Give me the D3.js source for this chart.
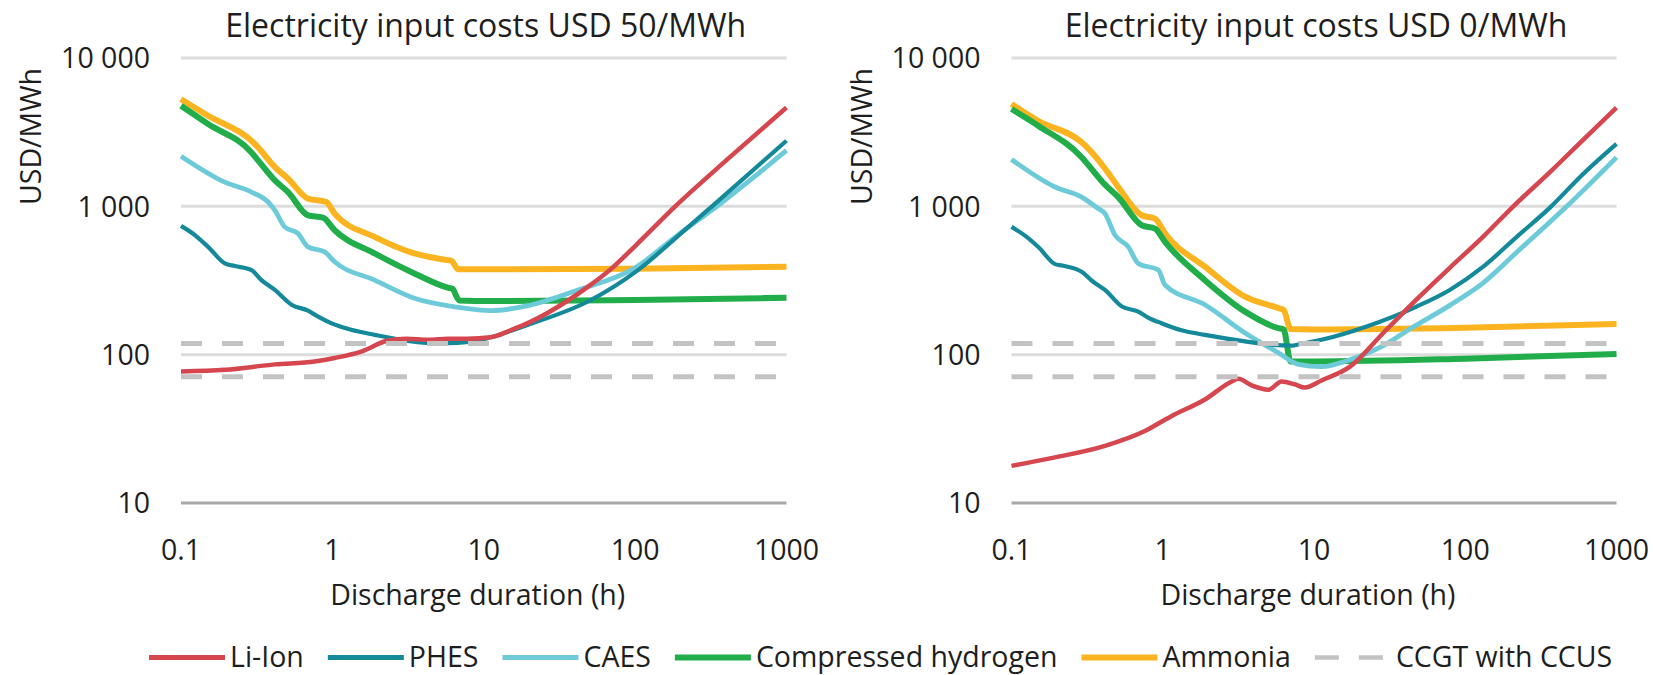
<!DOCTYPE html>
<html>
<head>
<meta charset="utf-8">
<script src="https://cdn.jsdelivr.net/npm/d3@7"></script>
<style>
  html, body { margin: 0; padding: 0; background: #fff; }
  svg { display: block; font-family: "Open Sans", "Noto Sans", sans-serif; }
</style>
</head>
<body>
<script>
// axis ticks
var durationTicks = [0.1, 1, 10, 100, 1000];
var costTicks = [10, 100, 1000, 10000];
var panelTitles = ["Electricity input costs USD 50/MWh", "Electricity input costs USD 0/MWh"];
var seriesNames = ["Li-Ion", "PHES", "CAES", "Compressed hydrogen", "Ammonia", "CCGT with CCUS"];
var allColor = ["#d5464f", "#13899a", "#6dcbd9", "#21ae4a", "#fbb41f", "#c3c3c3"];

// [duration h, USD/MWh] - electricity input USD 50/MWh
var liIon50 = [[0.1,77],[0.195,79],[0.417,86],[0.764,90],[1.035,95],[1.55,105],[2.3,124],[3.1,128],[4.3,126],[5.8,128],[7.8,128],[11.1,131],[15,146],[20,165],[35.6,230],[50,292],[68.8,376],[100,540],[184,1000],[417,2120],[1000,4640]];
var phes50 = [[0.1,738],[0.124,638],[0.151,533],[0.195,412],[0.227,396],[0.292,372],[0.34,318],[0.417,273],[0.537,217],[0.69,198],[0.8,181],[0.98,163],[1.33,147],[1.9,136],[3.15,124],[5.2,119],[8.65,123],[11.1,131],[20,160],[49.5,230],[106,376],[195,640],[322,1000],[1000,2770]];
var caes50 = [[0.1,2180],[0.195,1455],[0.292,1248],[0.376,1069],[0.417,940],[0.484,727],[0.593,656],[0.69,533],[0.889,493],[1.035,423],[1.9,318],[3.48,240],[6.7,209],[11.1,198],[20,215],[42,273],[98,380],[195,650],[347,1000],[1000,2380]];
var hydrogen50 = [[0.1,4770],[0.151,3590],[0.292,2310],[0.323,2040],[0.417,1494],[0.51,1248],[0.69,870],[0.867,840],[1.035,690],[1.9,481],[3.48,353],[5.78,283],[6.2,278],[6.9,232],[11.1,230],[100,234],[1000,242]];
var ammonia50 = [[0.1,5280],[0.151,4080],[0.292,2770],[0.323,2500],[0.417,1840],[0.51,1535],[0.69,1127],[0.912,1069],[1.035,893],[1.9,622],[3.48,481],[5.78,434],[6.1,430],[6.8,376],[11.1,376],[100,380],[1000,392]];

// electricity input USD 0/MWh
var liIon0 = [[0.1,17.8],[0.194,20.3],[0.415,24.3],[0.762,30.6],[1.14,38.5],[1.9,49.9],[2.86,66],[3.16,68.7],[3.87,62],[4.99,58],[6.11,66],[7.49,63],[8.7,60],[11.2,67],[17.3,83],[28.7,140],[47.7,236],[79,385],[131.5,625],[208,1000],[363,1700],[604,2820],[1000,4630]];
var phes0 = [[0.1,727],[0.124,630],[0.151,530],[0.194,408],[0.227,395],[0.291,362],[0.34,315],[0.415,273],[0.537,211],[0.689,195],[0.8,178],[0.98,163],[1.33,146],[1.9,136],[3.5,123],[5.2,117],[7.1,115],[8.08,118],[11.2,126],[22.3,155],[47.7,211],[79,273],[131.5,392],[219,623],[363,980],[604,1660],[1000,2640]];
var caes0 = [[0.1,2070],[0.194,1350],[0.291,1155],[0.375,965],[0.415,893],[0.483,640],[0.592,533],[0.689,412],[0.935,372],[1.035,295],[1.9,217],[3.5,140],[5.81,103],[7.88,86],[11.2,83],[17.3,92.5],[28.7,115],[43,149],[79,215],[131.5,305],[219,490],[469,1000],[1000,2140]];
var hydrogen0 = [[0.1,4530],[0.15,3500],[0.291,2140],[0.322,1900],[0.415,1400],[0.508,1155],[0.726,745],[0.889,708],[1.035,575],[1.9,318],[3.5,195],[5.81,151],[6.3,148],[7.0,90],[10,90],[100,94],[1000,101]];
var ammonia0 = [[0.1,4890],[0.15,3775],[0.291,2700],[0.322,2450],[0.415,1800],[0.508,1350],[0.726,870],[0.889,826],[1.035,656],[1.9,392],[3.5,246],[5.81,206],[6.3,200],[7.0,149],[10,148],[100,152],[1000,161]];

// CCGT with CCUS cost range, same in both panels
var ccgtRange = [71, 119];

function main() {
     document.body.innerHTML = '<svg width="1653" height="675"></svg>';
     var svg = d3.select("svg");
     var fs = 28.5;

     var panels = [
          { x0: 181, x1: 786.5, title: panelTitles[0], data: [liIon50, phes50, caes50, hydrogen50, ammonia50] },
          { x0: 1011.5, x1: 1616.5, title: panelTitles[1], data: [liIon0, phes0, caes0, hydrogen0, ammonia0] }
     ];
     var widths = [4.5, 4.2, 4.8, 6, 6];
     var drawOrder = [4, 3, 2, 1, 0];

     var y = d3.scaleLog().domain([10, 10000]).range([503, 58]);
     var fmtCost = function (v) { return d3.format(",")(v).replace(/,/g, " "); };

     panels.forEach(function (p) {
          var x = d3.scaleLog().domain([0.1, 1000]).range([p.x0, p.x1]);
          var g = svg.append("g");
          var mid = (p.x0 + p.x1) / 2;

          // gridlines
          g.selectAll(".grid").data(costTicks).enter().append("line")
               .attr("x1", p.x0).attr("x2", p.x1)
               .attr("y1", function (d) { return y(d); })
               .attr("y2", function (d) { return y(d); })
               .attr("stroke", function (d) { return d === 10 ? "#a8a8a8" : "#dcdcdc"; })
               .attr("stroke-width", 3);

          // y tick labels
          g.selectAll(".ylab").data(costTicks).enter().append("text")
               .attr("x", p.x0 - 31)
               .attr("y", function (d) { return y(d); })
               .attr("dy", "0.36em")
               .attr("text-anchor", "end")
               .attr("font-size", fs)
               .attr("fill", "#1e1e1e")
               .text(fmtCost);

          // x tick labels
          g.selectAll(".xlab").data(durationTicks).enter().append("text")
               .attr("x", function (d) { return x(d); })
               .attr("y", 560)
               .attr("text-anchor", "middle")
               .attr("font-size", fs)
               .attr("fill", "#1e1e1e")
               .text(function (d) { return String(d); });

          g.append("text")
               .attr("x", mid - 6).attr("y", 605)
               .attr("text-anchor", "middle")
               .attr("font-size", fs)
               .attr("fill", "#1e1e1e")
               .text("Discharge duration (h)");

          g.append("text")
               .attr("x", mid + 2).attr("y", 37)
               .attr("text-anchor", "middle")
               .attr("font-size", 32)
               .attr("fill", "#1e1e1e")
               .text(p.title);

          g.append("text")
               .attr("transform", "translate(" + (p.x0 - 150) + ",136.5) rotate(-90)")
               .attr("dy", "0.36em")
               .attr("text-anchor", "middle")
               .attr("font-size", fs)
               .attr("fill", "#1e1e1e")
               .text("USD/MWh");

          var line = d3.line()
               .x(function (d) { return x(d[0]); })
               .y(function (d) { return y(d[1]); })
               .curve(d3.curveMonotoneX);

          drawOrder.forEach(function (i) {
               g.append("path")
                    .attr("d", line(p.data[i]))
                    .attr("fill", "none")
                    .attr("stroke", allColor[i])
                    .attr("stroke-width", widths[i])
                    .attr("stroke-linejoin", "round");
          });

          // CCGT with CCUS range, dashed on top
          g.selectAll(".ccgt").data(ccgtRange).enter().append("line")
               .attr("x1", x(0.1)).attr("x2", x(1000))
               .attr("y1", function (d) { return y(d); })
               .attr("y2", function (d) { return y(d); })
               .attr("stroke", allColor[5])
               .attr("stroke-width", 5)
               .attr("stroke-dasharray", "21,20");
     });

     // legend
     var lx = 149, ly = 657.5;
     seriesNames.forEach(function (name, i) {
          var lg = svg.append("g");
          lg.append("line")
               .attr("x1", lx).attr("x2", lx + 76)
               .attr("y1", ly).attr("y2", ly)
               .attr("stroke", allColor[i])
               .attr("stroke-width", i === 5 ? 4.5 : (i >= 3 ? 6 : 5))
               .attr("stroke-dasharray", i === 5 ? "24,20" : null);
          var t = lg.append("text")
               .attr("x", lx + 81).attr("y", 667)
               .attr("font-size", fs)
               .attr("fill", "#1e1e1e")
               .text(name);
          lx += 81 + t.node().getComputedTextLength() + 24;
     });
}
main();
</script>
</body>
</html>
